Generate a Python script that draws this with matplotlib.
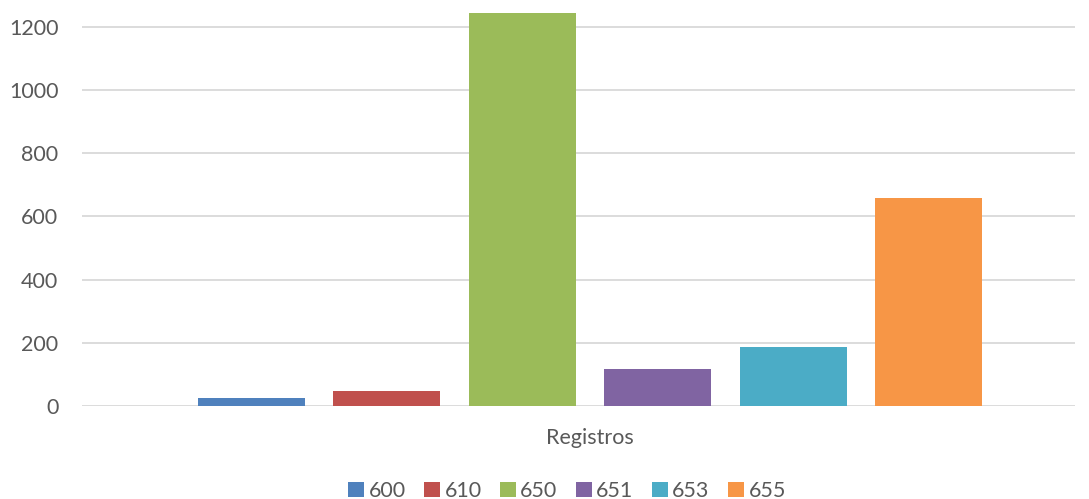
import numpy as np
import matplotlib.pyplot as plt

category = "Registros"
series_names = ["600", "610", "650", "651", "653", "655"]
series_values = [25, 47, 1244, 117, 187, 658]
colors = ["#4F81BD", "#C0504D", "#9BBB59", "#8064A2", "#4BACC6", "#F79646"]
y_ticks = [0, 200, 400, 600, 800, 1000, 1200]

plt.rcParams['font.family'] = ['Lato', 'DejaVu Sans']
text_color = "#595959"

fig = plt.figure(figsize=(10.89, 4.99), dpi=100)
ax = fig.add_axes([82 / 1089, 93 / 499, (1075 - 82) / 1089, 406 / 499])

n = len(series_values)
step = 0.1364
width = 0.1078
offsets = (np.arange(n) - (n - 1) / 2) * step
for off, val, col, name in zip(offsets, series_values, colors, series_names):
    ax.bar(off, val, width=width, color=col, label=name, zorder=3)

ax.set_xlim(-0.5116, 0.4884)
ax.set_ylim(0, 1285)
ax.set_yticks(y_ticks)
ax.set_yticklabels([str(v) for v in y_ticks])
ax.set_xticks([0])
ax.set_xticklabels([category])
ax.yaxis.grid(True, color="#d9d9d9", linewidth=1.3, zorder=0)
for s in ax.spines.values():
    s.set_visible(False)
ax.tick_params(axis='y', length=0, pad=17, labelsize=15.5, labelcolor=text_color)
ax.tick_params(axis='x', length=0, pad=16, labelsize=15.5, labelcolor=text_color)

fig.legend(loc='lower center', ncol=6, frameon=False, fontsize=15.5,
           labelcolor=text_color, handlelength=0.75, handleheight=0.75,
           handletextpad=0.2, columnspacing=0.85,
           bbox_to_anchor=(567 / 1089, -0.043))

fig.savefig("out.png", dpi=100)
